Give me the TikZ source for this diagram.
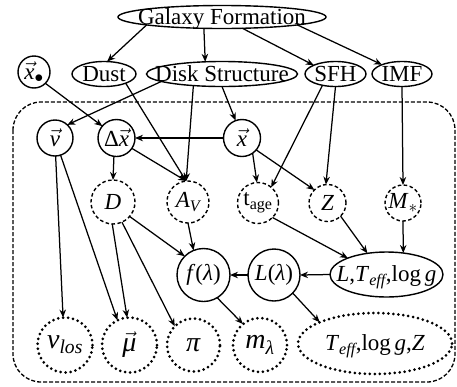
\documentclass[tikz,border=0pt]{standalone}
\usepackage{amsmath}
\usepackage{fontspec}
\setmainfont{Liberation Serif}
\usetikzlibrary{shapes.geometric,arrows.meta}
\tikzset{
  base/.style={font=\fontsize{23}{27}\selectfont, inner sep=0pt, outer sep=0pt, line width=1.4pt},
  big/.style={font=\fontsize{28}{32}\selectfont},
  ell/.style={base, ellipse, draw, text height=14pt, text depth=0pt},
  circ/.style={base, circle, draw},
  dcirc/.style={circ, dash pattern=on 3.5pt off 2.5pt},
  dotline/.style={base, draw, line width=3pt, dash pattern=on 0pt off 5pt, line cap=round},
  arr/.style={-{Stealth[length=8pt,width=6.5pt]}, line width=1.25pt},
  boxdash/.style={line width=1.3pt, dash pattern=on 4pt off 2pt, rounded corners=28pt}
}
\begin{document}
\begin{tikzpicture}[x=1pt,y=-1pt]
\useasboundingbox (0,0) rectangle (457,386);
\draw[boxdash] (13,102) rectangle (455,382);
% top level
\node[ell, minimum width=208pt, minimum height=23pt] (GF) at (222,17) {\makebox[0pt]{Galaxy Formation}};
\node[ell, minimum width=64pt, minimum height=25pt] (Dust) at (104,74) {\makebox[0pt]{Dust}};
\node[ell, minimum width=151pt, minimum height=25pt] (DS) at (222,74) {\makebox[0pt]{Disk Structure}};
\node[ell, minimum width=61pt, minimum height=25pt] (SFH) at (335.5,74) {\makebox[0pt]{SFH}};
\node[ell, minimum width=60pt, minimum height=25pt] (IMF) at (402,74) {\makebox[0pt]{IMF}};
\node[circ, minimum size=32pt] (xdot) at (34,72) {$\vec{\textit{x}}_{\bullet}$};
% second row
\node[circ, minimum size=36pt] (v) at (55,138) {$\vec{\textit{v}}$};
\node[circ, minimum size=37pt] (dx) at (116.5,138) {Δ$\vec{\textit{x}}$};
\node[circ, minimum size=37pt] (x) at (242,138) {$\vec{\textit{x}}$};
% third row
\node[dcirc, minimum size=44pt] (D) at (113,202) {\textit{D}};
\node[dcirc, minimum size=42pt] (AV) at (188,202) {\textit{A}$_{\text{\itshape V}}$};
\node[dcirc, minimum size=41pt] (tage) at (258,203) {t$_{\text{age}}$};
\node[dcirc, minimum size=37pt] (Z) at (327.5,203) {\textit{Z}};
\node[dcirc, minimum size=36pt] (Ms) at (403,203) {\textit{M}$_{*}$};
% fourth row
\node[circ, minimum size=53pt] (f) at (203.5,275) {\textit{f}(\textit{λ})};
\node[circ, minimum size=52pt] (Ll) at (274,275) {\textit{L}(\textit{λ})};
\node[ell, minimum width=113pt, minimum height=45pt] (LT) at (386.5,274.5) {\makebox[0pt]{\textit{L},\textit{T}$_{\text{\itshape eff}}$,log\,\textit{g}}};
% bottom row
\node[dotline, circle, big, minimum size=55pt] (vlos) at (65,345) {\textit{v}$_{\text{\itshape los}}$};
\node[dotline, circle, big, minimum size=55pt] (mu) at (129.5,345) {$\vec{\text{\itshape μ}}$};
\node[dotline, circle, big, minimum size=53pt] (pi) at (193.5,345) {\textit{π}};
\node[dotline, circle, big, minimum size=54pt] (ml) at (260,345) {\textit{m}$_{\text{\itshape λ}}$};
\node[dotline, ellipse, minimum width=154pt, minimum height=61pt, text height=14pt, text depth=0pt] (TZ) at (375,343.5) {\makebox[0pt]{\textit{T}$_{\text{\itshape eff}}$,log\,\textit{g},\textit{Z}}};
% edges
\draw[arr] (GF.186) -- (Dust.76);
\draw[arr] (GF.212.5) -- (DS.144.4);
\draw[arr] (GF.331.6) -- (SFH.158.5);
\draw[arr] (GF.354.2) -- (IMF.155);
\draw[arr] (xdot.315) -- (dx.140);
\draw[arr] (DS.187.5) -- (v.47);
\draw[arr] (Dust.337.9) -- (AV.95);
\draw[arr] (DS.202.5) -- (AV.95);
\draw[arr] (DS.south) -- (x.110);
\draw[arr] (SFH.221) -- (tage.50);
\draw[arr] (SFH.south) -- (Z.95);
\draw[arr] (IMF.south) -- (Ms.north);
\draw[arr] (x.west) -- (dx.east);
\draw[arr] (dx.262) -- (D.north);
\draw[arr] (dx.326) -- (AV.95);
\draw[arr] (x.305) -- (tage.93);
\draw[arr] (x.320) -- (Z.135);
\draw[arr] (D.319) -- (f.135);
\draw[arr] (AV.south) -- (f.112);
\draw[arr] (D.268) -- (mu.95);
\draw[arr] (D.294) -- (pi.135);
\draw[arr] (v.272) -- (vlos.94);
\draw[arr] (v.288) -- (mu.116);
\draw[arr] (tage.315) -- (LT.157.8);
\draw[arr] (Z.315) -- (LT.132.7);
\draw[arr] (Ms.south) -- (LT.52.5);
\draw[arr] (LT.west) -- (Ll.east);
\draw[arr] (Ll.west) -- (f.east);
\draw[arr] (f.301) -- (ml.129);
\draw[arr] (Ll.316) -- (TZ.159);
\end{tikzpicture}
\end{document}
